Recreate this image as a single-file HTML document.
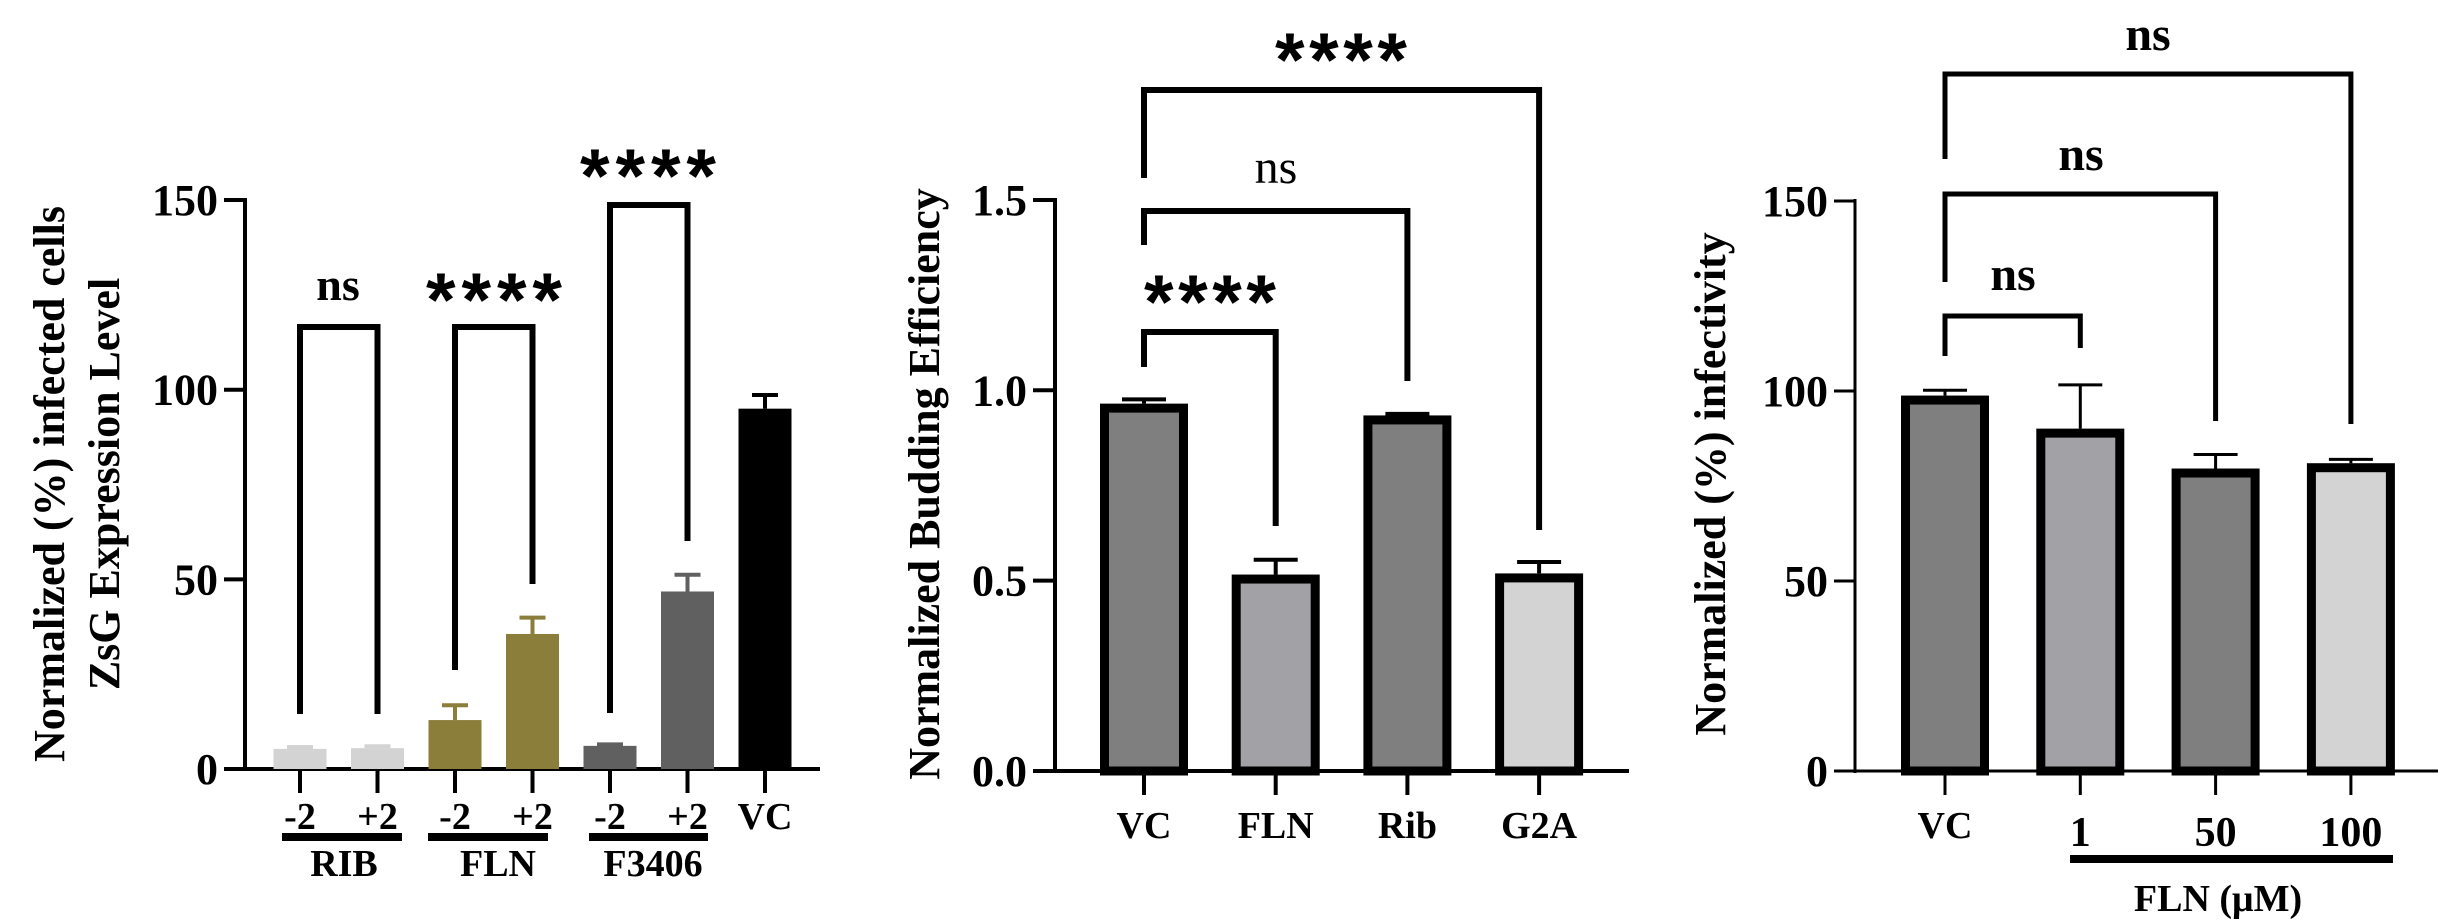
<!DOCTYPE html>
<html><head><meta charset="utf-8"><style>
html,body{margin:0;padding:0;background:#fff;}
svg{display:block;}
text{font-family:"Liberation Serif","Times New Roman","Nimbus Roman","DejaVu Serif",serif;font-weight:bold;fill:#000;}
</style></head><body>
<svg id="fig" width="2440" height="924" viewBox="0 0 2440 924" xmlns="http://www.w3.org/2000/svg" font-family="Liberation Serif, serif" font-weight="bold"></svg>
<script>
// ---- Chart A data (ZsG expression) ----
const catsA = ["-2","+2","-2","+2","-2","+2","VC"];
const valsA = [5.3, 5.5, 12.9, 35.6, 6.1, 46.8, 95.0];
const errA  = [5.8, 6.0, 16.8, 39.9, 6.5, 51.2, 98.6];
const colorsA = ["#d3d3d3","#d3d3d3","#8b7d3a","#8b7d3a","#606060","#606060","#000000"];
const ticksA = [0, 50, 100, 150];
// ---- Chart B data (budding efficiency) ----
const catsB = ["VC","FLN","Rib","G2A"];
const valsB = [0.965, 0.516, 0.934, 0.519];
const errB  = [0.976, 0.555, 0.938, 0.549];
const colorsB = ["#7f7f7f","#a2a1a6","#7f7f7f","#d3d3d3"];
const ticksB = ["0.0","0.5","1.0","1.5"];
// ---- Chart C data (infectivity) ----
const catsC = ["VC","1","50","100"];
const valsC = [98.8, 90.1, 79.6, 81.0];
const errC  = [100.2, 101.6, 83.3, 82.0];
const colorsC = ["#7f7f7f","#a2a1a6","#7f7f7f","#d3d3d3"];
const ticksC = [0, 50, 100, 150];

const NS = "http://www.w3.org/2000/svg";
const svg = document.getElementById("fig");
function mk(tag, attrs, parent){
  const e = document.createElementNS(NS, tag);
  for (const k in attrs) e.setAttribute(k, attrs[k]);
  (parent||svg).appendChild(e);
  return e;
}
function txt(s, x, y, size, parent, extra){
  const t = mk("text", Object.assign({x:x, y:y, "font-size":size, "text-anchor":"middle"}, extra||{}), parent);
  t.textContent = s;
  return t;
}
function stars(x, cy, w, parent){
  const t = mk("text", {x:x, y:cy+36, "font-size":76, "text-anchor":"middle", textLength:w, lengthAdjust:"spacing", style:"font-family:'Liberation Sans','DejaVu Sans',sans-serif;font-weight:bold"}, parent);
  t.textContent = "****";
  return t;
}
function bracket(x1, x2, top, b1, b2, sw, parent){
  return mk("path", {d:`M${x1},${b1} L${x1},${top} L${x2},${top} L${x2},${b2}`, fill:"none", stroke:"#000", "stroke-width":sw}, parent);
}

// ================= Chart A =================
const gA = mk("g", {});


const A = {x0:245, y0:769, k:3.793, xStart:300, step:77.5, bw:53};
const yA = v => A.y0 - v*A.k;
const xA = i => A.xStart + i*A.step;
let e = mk("line", {x1:A.x0, y1:yA(150)-2, x2:A.x0, y2:A.y0+2, stroke:"#000","stroke-width":4}, gA);


e = mk("line", {x1:226, y1:A.y0, x2:820, y2:A.y0, stroke:"#000","stroke-width":4}, gA);


ticksA.forEach(t => {
  mk("line", {x1:224, y1:yA(t), x2:A.x0, y2:yA(t), stroke:"#000","stroke-width":4}, gA);
  const l = txt(String(t), 218, yA(t)+15, 44, gA, {"text-anchor":"end"});
  
  
});
catsA.forEach((c, i) => {
  const cx = xA(i);
  const b = mk("rect", {x:cx-A.bw/2, y:yA(valsA[i]), width:A.bw, height:A.y0-yA(valsA[i]), fill:colorsA[i]}, gA);
  
  
  const eb = mk("path", {d:`M${cx},${yA(valsA[i])} L${cx},${yA(errA[i])} M${cx-13},${yA(errA[i])} L${cx+13},${yA(errA[i])}`, stroke:colorsA[i], "stroke-width":4, fill:"none"}, gA);
  
  
  mk("line", {x1:cx, y1:A.y0, x2:cx, y2:793, stroke:"#000","stroke-width":4}, gA);
  const l = txt(c, cx, 829, 38, gA);
  
  
});
[["RIB",282,402,344],["FLN",428,548,498],["F3406",589,708,653]].forEach(g => {
  const r = mk("rect", {x:g[1], y:833, width:g[2]-g[1], height:8, fill:"#000"}, gA);
  
  
  const l = txt(g[0], g[3], 876, 38, gA);
  
  
});
e = bracket(xA(0), xA(1), 327, 714, 714, 6, gA);


e = txt("ns", 338, 300, 46, gA);


e = bracket(xA(2), xA(3), 327, 670, 584, 6, gA);


e = stars(494, 290, 136, gA);


e = bracket(xA(4), xA(5), 205, 713, 541, 6, gA);


e = stars(648, 166, 136, gA);


e = txt("Normalized (%) infected cells", 0, 0, 44, gA, {transform:"translate(64,484) rotate(-90)"});


e = txt("ZsG Expression Level", 0, 0, 44, gA, {transform:"translate(119,484) rotate(-90)"});



// ================= Chart B =================
const gB = mk("g", {});


const B = {x0:1055, y0:771, k:380.7, xStart:1144, step:131.7, bw:88};
const yB = v => B.y0 - v*B.k;
const xB = i => B.xStart + i*B.step;
e = mk("line", {x1:B.x0, y1:yB(1.5)-2, x2:B.x0, y2:B.y0+2, stroke:"#000","stroke-width":4}, gB);


e = mk("line", {x1:1033, y1:B.y0, x2:1629, y2:B.y0, stroke:"#000","stroke-width":4}, gB);


ticksB.forEach(t => {
  const v = parseFloat(t);
  mk("line", {x1:1033, y1:yB(v), x2:B.x0, y2:yB(v), stroke:"#000","stroke-width":4}, gB);
  const l = txt(t, 1027, yB(v)+15, 44, gB, {"text-anchor":"end"});
  
  
});
catsB.forEach((c, i) => {
  const cx = xB(i);
  const cap = mk("path", {d:`M${cx},${yB(valsB[i])} L${cx},${yB(errB[i])} M${cx-22},${yB(errB[i])} L${cx+22},${yB(errB[i])}`, stroke:"#000","stroke-width":4, fill:"none"}, gB);
  
  
  const top = yB(valsB[i]);
  const b = mk("rect", {x:cx-B.bw/2+4.5, y:top+4.5, width:B.bw-9, height:B.y0-top-4.5, fill:colorsB[i], stroke:"#000","stroke-width":9}, gB);
  
  
  mk("line", {x1:cx, y1:B.y0, x2:cx, y2:795, stroke:"#000","stroke-width":4}, gB);
  const l = txt(c, cx, 838, 38, gB);
  
  
});
e = bracket(xB(0), xB(1), 332, 367, 526, 6, gB);


e = stars(1210, 292, 132, gB);


e = bracket(xB(0), xB(2), 211, 245, 381, 6, gB);


e = txt("ns", 1276, 183, 48, gB, {style:"font-weight:normal"});


e = bracket(xB(0), xB(3), 90, 178, 530, 6, gB);


e = stars(1341, 50, 132, gB);


e = txt("Normalized Budding Efficiency", 0, 0, 44, gB, {transform:"translate(939,484) rotate(-90)"});



// ================= Chart C =================
const gC = mk("g", {});


const C = {x0:1855, y0:771, k:3.8, xStart:1945, step:135.3, bw:88};
const yC = v => C.y0 - v*C.k;
const xC = i => C.xStart + i*C.step;
e = mk("line", {x1:C.x0, y1:yC(150)-2, x2:C.x0, y2:C.y0+2, stroke:"#000","stroke-width":3}, gC);


e = mk("line", {x1:1834, y1:C.y0, x2:2438, y2:C.y0, stroke:"#000","stroke-width":3}, gC);


ticksC.forEach(t => {
  mk("line", {x1:1834, y1:yC(t), x2:C.x0, y2:yC(t), stroke:"#000","stroke-width":3}, gC);
  const l = txt(String(t), 1828, yC(t)+15, 44, gC, {"text-anchor":"end"});
  
  
});
catsC.forEach((c, i) => {
  const cx = xC(i);
  const cap = mk("path", {d:`M${cx},${yC(valsC[i])} L${cx},${yC(errC[i])} M${cx-22},${yC(errC[i])} L${cx+22},${yC(errC[i])}`, stroke:"#000","stroke-width":3, fill:"none"}, gC);
  
  
  const top = yC(valsC[i]);
  const b = mk("rect", {x:cx-C.bw/2+4.5, y:top+4.5, width:C.bw-9, height:C.y0-top-4.5, fill:colorsC[i], stroke:"#000","stroke-width":9}, gC);
  
  
  mk("line", {x1:cx, y1:C.y0, x2:cx, y2:795, stroke:"#000","stroke-width":3}, gC);
  const l = txt(c, cx, i===0?838:846, i===0?38:42, gC);
  
  
});
e = mk("rect", {x:2070, y:855, width:323, height:8, fill:"#000"}, gC);


e = txt("FLN (μM)", 2218, 911, 38, gC);


e = bracket(xC(0), xC(1), 316, 356, 348, 5, gC);


e = txt("ns", 2013, 290, 48, gC);


e = bracket(xC(0), xC(2), 194, 282, 421, 5, gC);


e = txt("ns", 2081, 170, 48, gC);


e = bracket(xC(0), xC(3), 74, 159, 424, 5, gC);


e = txt("ns", 2148, 50, 48, gC);


e = txt("Normalized (%) infectivity", 0, 0, 44, gC, {transform:"translate(1725,484) rotate(-90)"});


</script>
</body></html>
